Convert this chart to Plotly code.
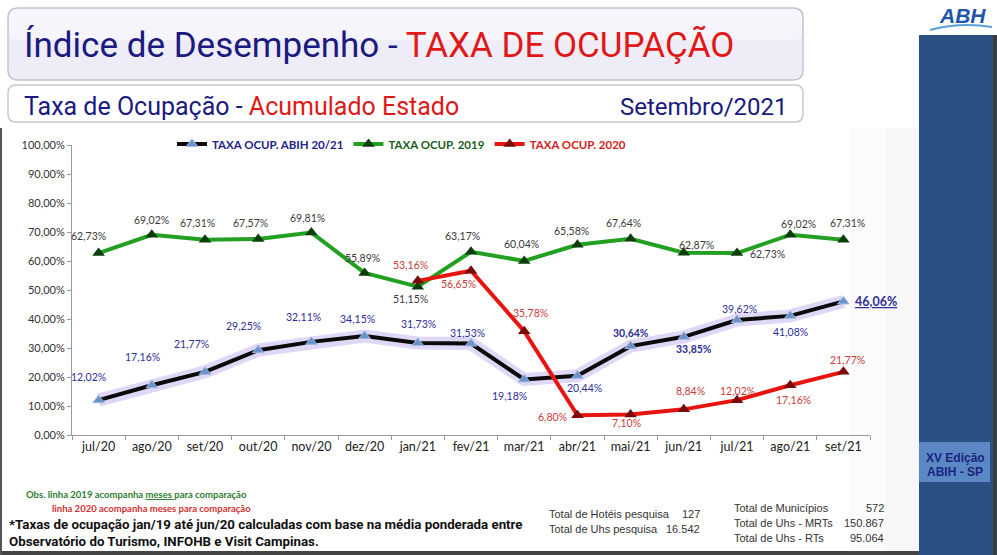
import plotly.graph_objects as go

# ---------------------------------------------------------------------------
# data
meses = ['jul/20', 'ago/20', 'set/20', 'out/20', 'nov/20', 'dez/20', 'jan/21', 'fev/21',
         'mar/21', 'abr/21', 'mai/21', 'jun/21', 'jul/21', 'ago/21', 'set/21']

taxa_abih = [12.02, 17.16, 21.77, 29.25, 32.11, 34.15, 31.73, 31.53,
             19.18, 20.44, 30.64, 33.85, 39.62, 41.08, 46.06]
taxa_2019 = [62.73, 69.02, 67.31, 67.57, 69.81, 55.89, 51.15, 63.17,
             60.04, 65.58, 67.64, 62.87, 62.73, 69.02, 67.31]
taxa_2020 = [None, None, None, None, None, None, 53.16, 56.65,
             35.78, 6.80, 7.10, 8.84, 12.02, 17.16, 21.77]

y_ticks = [0, 10, 20, 30, 40, 50, 60, 70, 80, 90, 100]

# ---------------------------------------------------------------------------
W, H = 997, 555
L, R, T, B = 72, 870, 145, 435   # plot area in pixels


def px(x):
    return (x - L) / (R - L)


def py(y):
    return (B - y) / (B - T)


def fmt(v):
    return ('%.2f' % v).replace('.', ',') + '%'


def rounded(x0, y0, x1, y1, r):
    # rounded rectangle path, pixel coords -> paper coords
    p = lambda x, y: '%f,%f' % (px(x), py(y))
    return ('M ' + p(x0 + r, y0) + ' L ' + p(x1 - r, y0) + ' Q ' + p(x1, y0) + ' ' + p(x1, y0 + r) +
            ' L ' + p(x1, y1 - r) + ' Q ' + p(x1, y1) + ' ' + p(x1 - r, y1) +
            ' L ' + p(x0 + r, y1) + ' Q ' + p(x0, y1) + ' ' + p(x0, y1 - r) +
            ' L ' + p(x0, y0 + r) + ' Q ' + p(x0, y0) + ' ' + p(x0 + r, y0) + ' Z')


LABEL_FONT = 'Lato, Open Sans, sans-serif'
NARROW = 'Roboto, sans-serif'

fig = go.Figure()

# lavender glow behind the ABIH line
fig.add_trace(go.Scatter(x=meses, y=taxa_abih, mode='lines', showlegend=False, hoverinfo='skip',
                         line=dict(color='rgba(160,140,225,0.35)', width=13)))

fig.add_trace(go.Scatter(
    x=meses, y=taxa_abih, mode='lines+markers',
    name='<b><span style="color:#23238a">TAXA OCUP. ABIH 20/21</span></b>',
    line=dict(color='#0a0a0a', width=4),
    marker=dict(symbol='triangle-up', size=10, color='#6b93c9', line=dict(color='#9fb9e0', width=1))))

fig.add_trace(go.Scatter(
    x=meses, y=taxa_2019, mode='lines+markers',
    name='<b><span style="color:#1b5e20">TAXA OCUP. 2019</span></b>',
    line=dict(color='#21a021', width=4),
    marker=dict(symbol='triangle-up', size=11, color='#0c3d0c')))

fig.add_trace(go.Scatter(
    x=meses, y=taxa_2020, mode='lines+markers',
    name='<b><span style="color:#d42020">TAXA OCUP. 2020</span></b>',
    line=dict(color='#e8140f', width=4),
    marker=dict(symbol='triangle-up', size=11, color='#7a0a0a')))

# data label offsets (pixels) relative to each point
off_abih = [(-10, 23), (-9, 28), (-14, 28), (-15, 24), (-8, 25), (-7, 17), (1, 19), (-4, 11),
            (-15, -17), (7, -12), (0, 13), (10, -12), (2, 11), (0, -16), (33, 0)]
off_2019 = [(-10, 17), (0, 15), (-8, 17), (-8, 16), (-4, 15), (-2, 15), (-7, -12), (-9, 16),
            (-3, 17), (-6, 14), (-7, 16), (13, 8), (30, -1), (8, 11), (4, 17)]
off_2020 = [None] * 6 + [(-7, 16), (-13, -13), (6, 18), (-25, -2), (-4, -9), (7, 18), (0, 9),
                         (3, -15), (4, 12)]

ann = []
for i, m in enumerate(meses):
    v = taxa_abih[i]
    t = fmt(v)
    size = 10.5
    if m in ('mai/21', 'jun/21'):
        t = '<b>' + t + '</b>'
    if i == len(meses) - 1:
        t = '<b><u>' + t + '</u></b>'
        size = 12.5
    ann.append(dict(x=m, y=v, text=t, showarrow=False, xshift=off_abih[i][0], yshift=off_abih[i][1],
                    font=dict(family=LABEL_FONT, size=size, color='#2e2e96')))
    v = taxa_2019[i]
    ann.append(dict(x=m, y=v, text=fmt(v), showarrow=False, xshift=off_2019[i][0], yshift=off_2019[i][1],
                    font=dict(family=LABEL_FONT, size=10.5, color='#3a3a3a')))
    v = taxa_2020[i]
    if v is not None:
        ann.append(dict(x=m, y=v, text=fmt(v), showarrow=False, xshift=off_2020[i][0],
                        yshift=off_2020[i][1], font=dict(family=LABEL_FONT, size=10.5, color='#c83a3a')))

# titles and notes (paper coords)
def txt(x, y, text, size, color, family=NARROW, anchor='left'):
    ann.append(dict(xref='paper', yref='paper', x=px(x), y=py(y), text=text, showarrow=False,
                    xanchor=anchor, yanchor='middle', font=dict(family=family, size=size, color=color)))


txt(22, 45, '<span style="color:#1a1a80">Índice de Desempenho - </span>'
            '<span style="color:#e01818">TAXA DE OCUPAÇÃO</span>', 35, '#1a1a80')
txt(22, 107, '<span style="color:#1a1a80">Taxa de Ocupação - </span>'
             '<span style="color:#e01818">Acumulado Estado</span>', 25, '#1a1a80')
txt(790, 107, 'Setembro/2021', 24, '#1a1a80', anchor='right')

txt(24, 494, '<b>Obs. linha 2019 acompanha <u>meses </u>para comparação</b>', 9.5, '#2e7d32', LABEL_FONT)
txt(50, 508, '<b>linha 2020 acompanha meses para comparação</b>', 9.5, '#d32f2f', LABEL_FONT)
txt(7, 524, '<b>*Taxas de ocupação jan/19 até jun/20 calculadas com base na média ponderada entre</b>',
    13.3, '#111111')
txt(7, 541, '<b>Observatório do Turismo, INFOHB e Visit Campinas.</b>', 13.3, '#111111')

STAT = 'Liberation Sans, Arial, sans-serif'
txt(547, 514, 'Total de Hotéis pesquisa', 11, '#333333', STAT)
txt(702, 514, '127', 11, '#333333', STAT, 'right')
txt(547, 529, 'Total de Uhs pesquisa', 11, '#333333', STAT)
txt(702, 529, '16.542', 11, '#333333', STAT, 'right')
txt(732, 508, 'Total de Municípios', 11, '#333333', STAT)
txt(886, 508, '572', 11, '#333333', STAT, 'right')
txt(732, 523, 'Total de Uhs - MRTs', 11, '#333333', STAT)
txt(886, 523, '150.867', 11, '#333333', STAT, 'right')
txt(732, 538, 'Total de Uhs - RTs', 11, '#333333', STAT)
txt(886, 538, '95.064', 11, '#333333', STAT, 'right')

txt(955, 458, '<b>XV Edição</b>', 12, '#1a237e', STAT, 'center')
txt(955, 472, '<b>ABIH - SP</b>', 12, '#1a237e', STAT, 'center')
txt(962, 15, '<b><i>ABH</i></b>', 21, '#1f56a8', STAT, 'center')

shapes = [
    # title boxes
    dict(type='path', xref='paper', yref='paper', path=rounded(8, 8, 803, 80, 10),
         fillcolor='#eeedf7', line=dict(color='#c4c3d2', width=1.5), layer='below'),
    dict(type='path', xref='paper', yref='paper', path=rounded(9, 9, 802, 40, 9),
         fillcolor='rgba(255,255,255,0.45)', line=dict(width=0), layer='below'),
    dict(type='path', xref='paper', yref='paper', path=rounded(8, 85, 803, 122, 8),
         fillcolor='#ffffff', line=dict(color='#c9c9c9', width=1.5), layer='below'),
    # right sidebar
    dict(type='rect', xref='paper', yref='paper', x0=px(919), x1=px(993), y0=py(35), y1=py(555),
         fillcolor='#2b5184', line=dict(width=0)),
    dict(type='rect', xref='paper', yref='paper', x0=px(919), x1=px(990), y0=py(442), y1=py(482),
         fillcolor='#5b88c4', line=dict(width=0)),
    dict(type='rect', xref='paper', yref='paper', x0=px(993), x1=px(997), y0=py(35), y1=py(555),
         fillcolor='#3c3c3c', line=dict(width=0)),
    # soft grey shading right of the chart
    dict(type='rect', xref='paper', yref='paper', x0=px(850), x1=px(919), y0=py(128), y1=py(551),
         fillcolor='rgba(210,210,210,0.08)', line=dict(width=0), layer='below'),
    dict(type='rect', xref='paper', yref='paper', x0=px(885), x1=px(919), y0=py(128), y1=py(551),
         fillcolor='rgba(210,210,210,0.08)', line=dict(width=0), layer='below'),
    # frame edges
    dict(type='rect', xref='paper', yref='paper', x0=px(0), x1=px(919), y0=py(551), y1=py(555),
         fillcolor='#444444', line=dict(width=0)),
    dict(type='rect', xref='paper', yref='paper', x0=px(0), x1=px(2), y0=py(128), y1=py(555),
         fillcolor='#555555', line=dict(width=0)),
    # logo swoosh
    dict(type='path', xref='paper', yref='paper',
         path='M %f,%f Q %f,%f %f,%f' % (px(930), py(30), px(960), py(22), px(992), py(27)),
         line=dict(color='#5aa0d8', width=2)),
]

fig.update_layout(
    width=W, height=H, autosize=False,
    margin=dict(l=L, r=W - R, t=T, b=H - B),
    paper_bgcolor='#ffffff', plot_bgcolor='rgba(0,0,0,0)',
    separators=',.',
    showlegend=True,
    legend=dict(orientation='h', x=px(172), y=py(144), xanchor='left', yanchor='middle',
                font=dict(family=LABEL_FONT, size=11.5), bgcolor='rgba(0,0,0,0)',
                itemwidth=30, tracegroupgap=0),
    annotations=ann, shapes=shapes,
    xaxis=dict(type='category', showgrid=False, showline=True, linecolor='#9a9a9a', linewidth=1,
               ticks='outside', tickson='boundaries', ticklen=4, tickcolor='#9a9a9a',
               tickfont=dict(family=LABEL_FONT, size=12.5, color='#222222'), range=[-0.5, 14.5]),
    yaxis=dict(range=[0, 100], tickvals=y_ticks, ticktext=[fmt(v) for v in y_ticks],
               showgrid=False, showline=True, linecolor='#9a9a9a', linewidth=1, zeroline=False,
               ticks='outside', ticklen=4, tickcolor='#9a9a9a',
               tickfont=dict(family=LABEL_FONT, size=11, color='#333333')),
)

# the page's default body margin would push the 997x555 figure out of the window
fig.write_html('out.html', config={'displayModeBar': False},
               post_script="document.body.style.margin='0';")
